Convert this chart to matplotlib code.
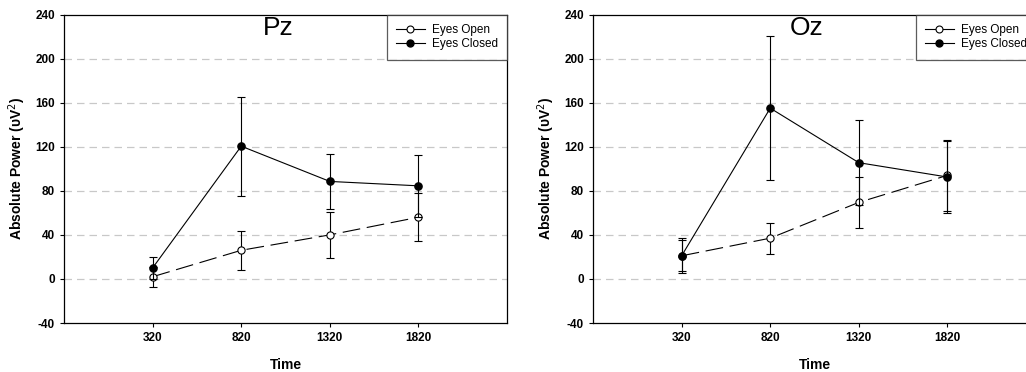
import matplotlib
matplotlib.use("Agg")
import matplotlib.pyplot as plt
from matplotlib.lines import Line2D

plt.rcParams['font.family'] = ['Liberation Sans', 'DejaVu Sans']
plt.rcParams['axes.unicode_minus'] = False

# dados
tempo = [320, 820, 1320, 1820]
canais = ['Pz', 'Oz']

pz_aberto = [2, 26, 40, 56]
pz_aberto_err = [9, 17.5, 21, 22]
pz_fechado = [10, 120.5, 88.5, 84.5]
pz_fechado_err = [10, 45, 25, 28]

oz_aberto = [21, 37, 69.5, 94]
oz_aberto_err = [14, 14, 23, 32]
oz_fechado = [21, 155, 105.5, 92.5]
oz_fechado_err = [16, 65.5, 38.5, 33]

yticks = [-40, 0, 40, 80, 120, 160, 200, 240]
grid_y = [0, 40, 80, 120, 160, 200]

dados = {
    'Pz': (pz_aberto, pz_aberto_err, pz_fechado, pz_fechado_err),
    'Oz': (oz_aberto, oz_aberto_err, oz_fechado, oz_fechado_err),
}

fig = plt.figure(figsize=(10.26, 3.72), dpi=100)
posicoes = [[0.0624, 0.1317, 0.4318, 0.8293], [0.578, 0.1317, 0.4318, 0.8293]]

for canal, pos in zip(canais, posicoes):
    ax = fig.add_axes(pos)
    ab, ab_err, fe, fe_err = dados[canal]

    for g in grid_y:
        ax.axhline(g, color='#c8c8c8', linestyle=(0, (6, 4)), linewidth=0.9, zorder=0)

    ax.errorbar(tempo, ab, yerr=ab_err, color='black', linestyle=(0, (16, 6)),
                linewidth=0.8, marker='o', markersize=5.2, markerfacecolor='white',
                markeredgecolor='black', markeredgewidth=0.8, capsize=3,
                elinewidth=0.8, capthick=0.8, zorder=3)
    ax.errorbar(tempo, fe, yerr=fe_err, color='black', linestyle='-',
                linewidth=0.8, marker='o', markersize=5.2, markerfacecolor='black',
                markeredgecolor='black', capsize=3, elinewidth=0.8,
                capthick=0.8, zorder=4)

    ax.set_xlim(-180, 2320)
    ax.set_ylim(-40, 240)
    ax.set_xticks(tempo)
    ax.set_yticks(yticks)
    ax.tick_params(direction='out', length=3, width=0.8, labelsize=8.5)
    for lab in ax.get_xticklabels() + ax.get_yticklabels():
        lab.set_fontweight('bold')
    for s in ax.spines.values():
        s.set_linewidth(0.9)

    ax.set_xlabel('Time', fontsize=10, fontweight='bold', labelpad=10)
    ax.set_ylabel('Absolute Power (υV$^2$)', fontsize=10, fontweight='bold', labelpad=5)
    ax.text(0.483, 0.955, canal, transform=ax.transAxes, ha='center', va='center', fontsize=19)

    handles = [
        Line2D([], [], color='black', linewidth=0.8, marker='o', markersize=5,
               markerfacecolor='white', markeredgewidth=0.8),
        Line2D([], [], color='black', linewidth=0.8, marker='o', markersize=5,
               markerfacecolor='black'),
    ]
    leg = ax.legend(handles, ['Eyes Open', 'Eyes Closed'], loc='upper right',
                    fontsize=8.5, frameon=True, fancybox=False, handlelength=2.4,
                    handletextpad=0.6, borderaxespad=0, borderpad=0.8,
                    labelspacing=0.2)
    leg.get_frame().set_edgecolor('#333333')
    leg.get_frame().set_linewidth(0.9)

fig.savefig('out.png', dpi=100)
